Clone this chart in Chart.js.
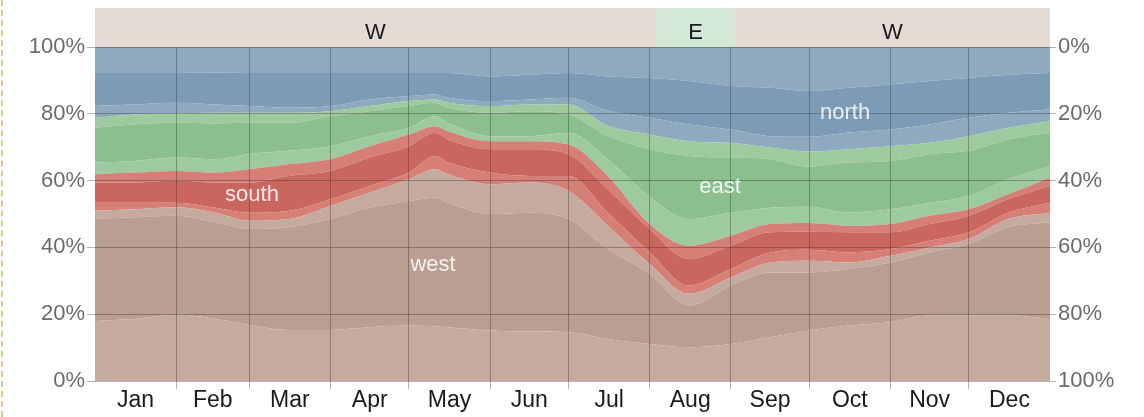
<!DOCTYPE html>
<html>
<head>
<meta charset="utf-8">
<script src="https://cdn.jsdelivr.net/npm/chart.js@4"></script>
<style>
  body { margin: 0; background: #fff; overflow: hidden; }
  #wrap { position: relative; width: 1144px; height: 417px; }
  #edge { position: absolute; left: 1px; top: 0; height: 417px; border-left: 2px dashed #e3c690; }
</style>
</head>
<body>
<div id="wrap">
  <div id="edge"></div>
  <canvas id="windChart"></canvas>
</div>
<script>
// day of year for each sample
const days = [0, 15, 31, 46, 59, 74, 90, 105, 120, 130, 135, 151, 166, 181, 196, 212, 227, 243, 258, 273, 288, 304, 319, 334, 349, 365];

// percent of hours per band, bottom to top (light = implied intermediate direction)
const westNW  = [18.0, 18.6, 19.8, 18.6, 16.8, 15.3, 15.3, 16.1, 16.6, 16.4, 16.1, 15.1, 14.8, 14.6, 12.6, 11.1, 10.1, 11.1, 13.1, 15.1, 16.6, 17.6, 19.6, 19.6, 19.6, 18.6];
const west    = [30.5, 30.4, 29.7, 28.9, 28.7, 30.7, 33.2, 35.8, 37.3, 38.5, 37.3, 34.9, 35.6, 33.9, 26.9, 20.9, 12.5, 17.5, 19.4, 17.4, 16.9, 17.9, 18.9, 21.4, 26.4, 28.9];
const westSW  = [2.5, 2.4, 2.5, 2.9, 2.5, 2.5, 3.9, 4.5, 6.5, 8.5, 8.5, 8.9, 9.0, 8.4, 7.0, 3.0, 3.5, 2.4, 3.0, 3.5, 2.0, 2.0, 1.5, 1.5, 2.5, 2.9];
const southSW = [2.4, 2.0, 1.4, 1.5, 2.4, 2.4, 2.0, 2.0, 2.0, 4.0, 3.5, 3.5, 2.0, 4.5, 3.9, 3.5, 2.5, 2.5, 3.0, 3.3, 3.0, 2.0, 2.0, 2.0, 1.9, 3.0];
const south   = [6.0, 6.0, 6.6, 7.5, 9.0, 10.5, 8.5, 8.5, 7.9, 6.9, 6.9, 7.0, 8.0, 6.5, 7.0, 7.0, 7.9, 7.0, 6.0, 5.4, 6.0, 5.0, 5.0, 5.0, 4.0, 5.0];
const southSE = [2.5, 3.0, 2.9, 3.0, 4.0, 3.5, 3.5, 3.4, 3.5, 2.0, 2.5, 2.4, 2.4, 2.9, 4.0, 1.5, 4.0, 3.0, 2.5, 2.6, 2.0, 2.5, 2.5, 1.9, 1.5, 2.5];
const eastSE  = [3.5, 3.5, 4.0, 4.0, 4.5, 4.0, 3.9, 3.0, 2.0, 3.0, 2.5, 1.5, 1.5, 3.5, 5.0, 8.2, 8.0, 6.9, 4.9, 4.9, 3.9, 4.4, 3.9, 4.0, 4.5, 3.5];
const east    = [10.4, 10.9, 10.4, 10.7, 9.4, 8.4, 9.0, 7.5, 6.5, 4.0, 4.5, 7.0, 7.5, 5.5, 7.0, 14.2, 18.9, 16.5, 14.5, 12.0, 15.0, 14.5, 14.5, 13.5, 11.9, 9.9];
const eastNE  = [3.0, 3.0, 2.8, 3.2, 3.0, 3.0, 1.5, 1.5, 1.5, 1.0, 1.5, 2.0, 2.0, 3.0, 3.0, 4.4, 4.4, 4.4, 3.5, 4.5, 4.0, 4.4, 3.4, 4.4, 3.5, 3.5];
const northNE = [3.5, 3.0, 3.2, 2.5, 2.0, 1.5, 1.5, 2.0, 1.5, 1.5, 1.5, 1.5, 1.5, 2.0, 4.5, 5.0, 5.0, 4.0, 3.4, 4.4, 5.0, 5.0, 5.5, 5.5, 4.5, 3.5];
const north   = [9.9, 9.4, 8.9, 9.6, 9.9, 10.4, 9.9, 7.9, 6.9, 6.4, 7.4, 7.4, 7.4, 7.4, 10.3, 11.9, 13.0, 13.0, 14.5, 13.7, 13.4, 13.5, 13.0, 11.9, 11.4, 10.9];
const northNW = [7.8, 7.8, 7.8, 7.6, 7.8, 7.8, 7.8, 7.8, 7.8, 7.8, 7.8, 8.8, 8.3, 7.8, 8.8, 9.3, 10.2, 11.7, 12.2, 13.2, 12.2, 11.2, 10.2, 9.3, 8.3, 7.8];

const months = ['Jan', 'Feb', 'Mar', 'Apr', 'May', 'Jun', 'Jul', 'Aug', 'Sep', 'Oct', 'Nov', 'Dec'];
const monthStarts = [0, 31, 59, 90, 120, 151, 181, 212, 243, 273, 304, 334, 365];

// predominant direction strip along the top
const domLabels = ['W', 'E', 'W'];
const domStart = [0, 214.4, 244.6];
const domEnd = [214.4, 244.6, 365];

const C = {
  westLight: '#c5aaa0', westDark: '#ba9e91',
  southLight: '#d57f77', southDark: '#c9675f',
  eastLight: '#9dca9e', eastDark: '#8bbf8e',
  northLight: '#8eaabe', northDark: '#7b9cb4'
};

const bands = [
  [westNW, C.westLight], [west, C.westDark], [westSW, C.westLight],
  [southSW, C.southLight], [south, C.southDark], [southSE, C.southLight],
  [eastSE, C.eastLight], [east, C.eastDark], [eastNE, C.eastLight],
  [northNE, C.northLight], [north, C.northDark], [northNW, C.northLight]
];

const datasets = bands.map(([vals, color], i) => ({
  data: vals.map((v, j) => ({ x: days[j], y: v })),
  backgroundColor: color,
  borderWidth: 0,
  pointRadius: 0,
  cubicInterpolationMode: 'monotone',
  fill: i === 0 ? 'origin' : '-1'
}));

const gridColor = 'rgba(40,40,40,0.35)';

const overlay = {
  id: 'overlay',
  afterDraw(chart) {
    const { ctx, chartArea, scales } = chart;
    const x = scales.x, y = scales.y;
    ctx.save();
    // top strip
    domLabels.forEach((lab, i) => {
      const x0 = x.getPixelForValue(domStart[i]);
      const x1 = x.getPixelForValue(domEnd[i]);
      ctx.fillStyle = lab === 'E' ? '#d4e8d8' : '#e6dad5';
      ctx.fillRect(x0, 8, x1 - x0, chartArea.top - 8);
      ctx.fillStyle = '#1a1a1a';
      ctx.font = '22px "Liberation Sans", Arial, sans-serif';
      ctx.textAlign = 'center';
      ctx.textBaseline = 'alphabetic';
      ctx.fillText(lab, (x0 + x1) / 2, 39);
    });
    // band names
    ctx.fillStyle = 'rgba(255,255,255,0.85)';
    ctx.font = '22px "Liberation Sans", Arial, sans-serif';
    ctx.textAlign = 'center';
    ctx.textBaseline = 'middle';
    [['south', 60, 55.7], ['west', 129.2, 34.7], ['east', 238.9, 58.1], ['north', 286.7, 80.2]].forEach(([t, d, p]) => {
      ctx.fillText(t, x.getPixelForValue(d), y.getPixelForValue(p));
    });
    ctx.restore();
  }
};

new Chart(document.getElementById('windChart'), {
  type: 'line',
  data: { datasets },
  plugins: [overlay],
  options: {
    responsive: true,
    maintainAspectRatio: false,
    animation: false,
    layout: { padding: { top: 47 } },
    plugins: { legend: { display: false }, tooltip: { enabled: false } },
    scales: {
      x: {
        type: 'linear', position: 'bottom', weight: 0,
        min: 0, max: 365,
        afterBuildTicks: s => { s.ticks = monthStarts.slice(1, -1).map(v => ({ value: v })); },
        afterFit: s => { s.height = 0; },
        ticks: { display: false },
        grid: { color: gridColor, tickLength: 8, z: 1 },
        border: { display: false }
      },
      months: {
        type: 'linear', position: 'bottom', weight: 1,
        min: 0, max: 365,
        afterBuildTicks: s => { s.ticks = monthStarts.slice(0, -1).map((v, i) => ({ value: (v + monthStarts[i + 1]) / 2 })); },
        afterFit: s => { s.height = 36; },
        ticks: {
          autoSkip: false, maxRotation: 0, padding: 6,
          color: '#1a1a1a',
          font: { family: '"Liberation Sans", Arial, sans-serif', size: 23 },
          callback: (v, i) => months[i]
        },
        grid: { display: false, drawTicks: false },
        border: { display: false }
      },
      y: {
        stacked: true, position: 'left',
        min: 0, max: 100,
        afterFit: s => { s.width = 95; },
        ticks: {
          stepSize: 20, padding: 2, color: '#6b6b6b',
          font: { family: '"Liberation Sans", Arial, sans-serif', size: 22 },
          callback: v => v + '%'
        },
        grid: { color: gridColor, tickLength: 8, z: 1 },
        border: { display: false }
      },
      y2: {
        position: 'right', reverse: true,
        min: 0, max: 100,
        afterFit: s => { s.width = 94; },
        ticks: {
          stepSize: 20, padding: 2, color: '#6b6b6b',
          font: { family: '"Liberation Sans", Arial, sans-serif', size: 22 },
          callback: v => v + '%'
        },
        grid: { drawOnChartArea: false, color: gridColor, tickLength: 6, z: 1 },
        border: { display: false }
      }
    }
  }
});
</script>
</body>
</html>
